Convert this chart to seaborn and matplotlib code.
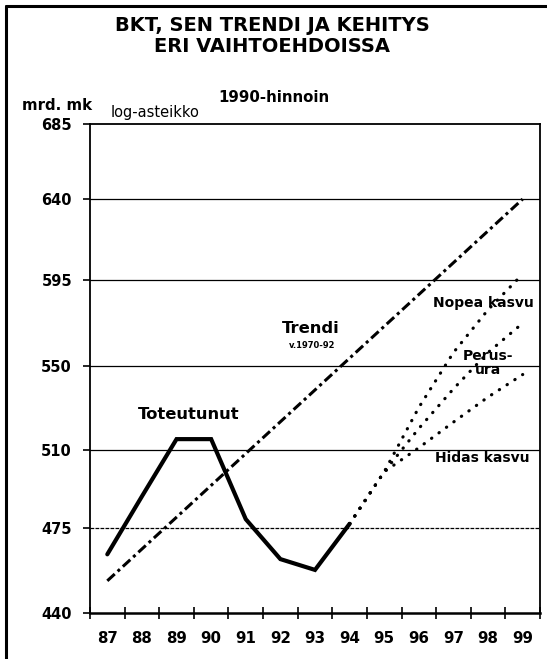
import matplotlib
matplotlib.use("Agg")
import matplotlib.pyplot as plt
from matplotlib import lines, ticker
import seaborn as sns

# Data (mrd. mk, 1990 prices)
years = [87, 88, 89, 90, 91, 92, 93, 94, 95, 96, 97, 98, 99]
actual_years = [87, 88, 89, 90, 91, 92, 93, 94]
actual = [464, 489, 515, 515, 479, 462, 457.5, 477]
trend_years = [87, 99]
trend = [453, 640]
scen_years = [94, 95, 96, 97, 98, 99]
fast = [477, 500, 530, 557, 579, 598]
base = [477, 500, 520, 539, 557, 572]
slow = [477, 500, 511, 523, 535, 546]
y_ticks = [440, 475, 510, 550, 595, 640, 685]

sns.set_style("white")
plt.rcParams["font.family"] = ["DejaVu Sans"]
plt.rcParams["font.weight"] = "bold"
plt.rcParams["text.color"] = "black"
plt.rcParams["xtick.color"] = "black"
plt.rcParams["ytick.color"] = "black"

W, H = 547, 659
fig = plt.figure(figsize=(W / 100, H / 100), dpi=100)
ax = fig.add_axes([90 / W, 46 / H, 450 / W, 489 / H])

# Lines
sns.lineplot(x=actual_years, y=actual, ax=ax, color="black", lw=3.0,
             solid_joinstyle="miter")
sns.lineplot(x=trend_years, y=trend, ax=ax, color="black", lw=2.2,
             linestyle=(0, (3.3, 1.3, 1.0, 1.3)), dash_capstyle="butt")
for vals in [fast, base, slow]:
    sns.lineplot(x=scen_years, y=vals, ax=ax, color="black", lw=2.3,
                 linestyle=(0, (0.1, 2.8)), dash_capstyle="round")

# Axes / scales
ax.set_yscale("log")
ax.set_ylim(440, 685)
ax.set_xlim(86.5, 99.5)
ax.yaxis.set_major_locator(ticker.FixedLocator(y_ticks))
ax.yaxis.set_major_formatter(ticker.FixedFormatter([str(v) for v in y_ticks]))
ax.yaxis.set_minor_locator(ticker.NullLocator())
ax.set_xticks(years)
ax.set_xticklabels([str(y) for y in years])
ax.set_xticks([y + 0.5 for y in [86] + years], minor=True)
ax.tick_params(axis="x", which="major", bottom=True, length=0, pad=13,
               labelsize=10.8)
ax.tick_params(axis="x", which="minor", bottom=True, direction="inout",
               length=9, width=1.2)
ax.tick_params(axis="y", which="major", left=True, direction="out", length=5,
               width=1.2, pad=8, labelsize=10.5)
for lab in ax.get_xticklabels() + ax.get_yticklabels():
    lab.set_fontweight("bold")
ax.set_xlabel("")
ax.set_ylabel("")

for s in ax.spines.values():
    s.set_visible(True)
    s.set_color("black")
    s.set_linewidth(1.3)
ax.spines["bottom"].set_linewidth(1.8)

# Grid lines
for v in y_ticks[1:-1]:
    ax.axhline(v, color="black", lw=0.9,
               linestyle=(0, (3, 1)) if v == 475 else "-", zorder=0)

# Annotations
ax.text(89.34, 526.4, "Toteutunut", ha="center", va="center", fontsize=11.8,
        fontweight="bold")
ax.text(92.87, 569.4, "Trendi", ha="center", va="center", fontsize=11.8,
        fontweight="bold")
ax.text(92.93, 560.3, "v.1970-92", ha="center", va="center", fontsize=6,
        fontweight="bold")
ax.text(97.85, 582.3, "Nopea kasvu", ha="center", va="center", fontsize=10,
        fontweight="bold")
ax.text(98.0, 551.8, "Perus-\nura", ha="center", va="center", fontsize=10,
        fontweight="bold", linespacing=1.0)
ax.text(97.84, 506.1, "Hidas kasvu", ha="center", va="center", fontsize=10,
        fontweight="bold")

# Titles and axis notes
fig.text(272 / W, 1 - 36 / H, "BKT, SEN TRENDI JA KEHITYS\nERI VAIHTOEHDOISSA",
         ha="center", va="center", fontsize=14, fontweight="bold",
         linespacing=1.1)
fig.text(57 / W, 1 - 105 / H, "mrd. mk", ha="center", va="center",
         fontsize=10.8, fontweight="bold")
fig.text(155 / W, 1 - 112 / H, "log-asteikko", ha="center", va="center",
         fontsize=10.5, fontweight="normal")
fig.text(274 / W, 1 - 97 / H, "1990-hinnoin", ha="center", va="center",
         fontsize=10.8, fontweight="bold")

# Outer frame (left and top edges)
fig.add_artist(lines.Line2D([6 / W, 6 / W], [0, 1 - 6 / H], color="black",
                            lw=2.2, transform=fig.transFigure))
fig.add_artist(lines.Line2D([6 / W, 1], [1 - 6 / H, 1 - 6 / H], color="black",
                            lw=2.2, transform=fig.transFigure))

fig.savefig("out.png", dpi=100)
